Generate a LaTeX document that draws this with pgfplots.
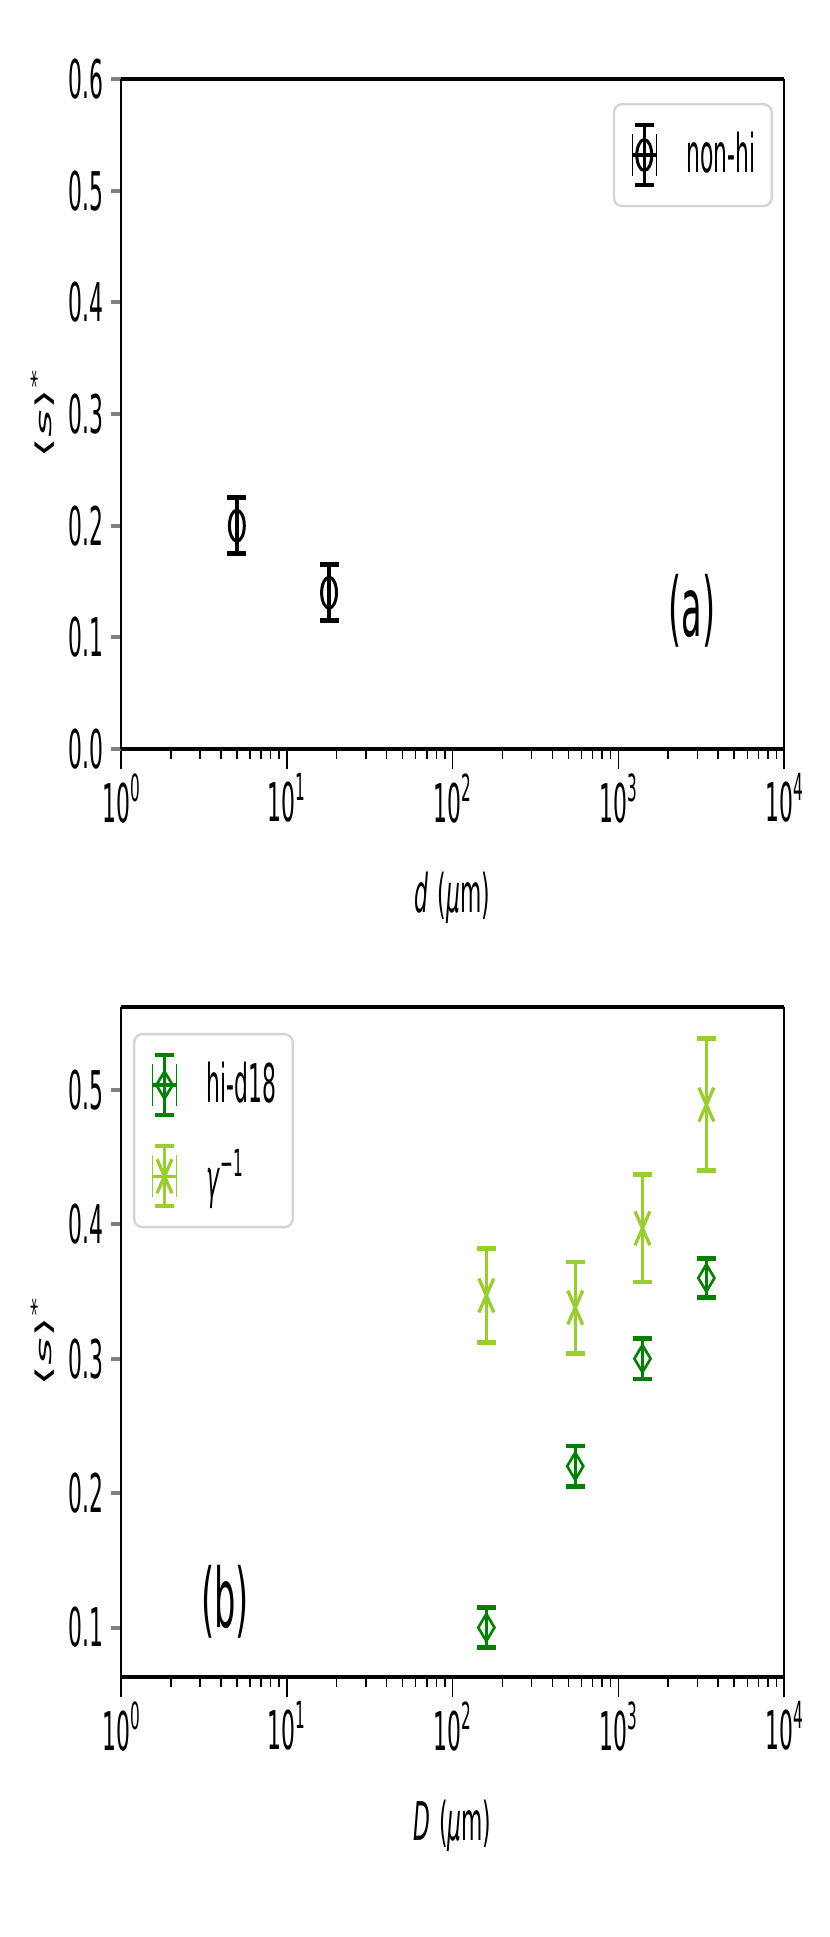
\documentclass[border=0pt]{standalone}
\usepackage{fontspec}
\setmainfont{DejaVu Sans}[FakeStretch=0.41]
\newfontfamily\ylabfont{DejaVu Sans}
\usepackage{graphicx}
\usepackage{pgfplots}
\pgfplotsset{compat=1.18}

\definecolor{mgreen}{HTML}{008000}
\definecolor{ygreen}{HTML}{9ACD32}
\definecolor{leggray}{HTML}{D4D4D4}

\newcommand\sups[1]{\raisebox{0.39em}{\fontsize{11.2}{11.2}\selectfont #1}}
\newcommand\fsz{\fontsize{16}{16}\selectfont}

% legend image: y error bar with caps, small x caps, then the marker
\newcommand\ebimg[2]{%
    \draw[#1, line width=0.45pt] (0.3cm-3.6pt,-6.3pt) -- (0.3cm-3.6pt,6.3pt)
                                 (0.3cm+3.6pt,-6.3pt) -- (0.3cm+3.6pt,6.3pt);
    \draw[#1, line width=1pt] (0.3cm-3.6pt,0pt) -- (0.3cm+3.6pt,0pt);
    \draw[#1, line width=1pt] (0.3cm,-9pt) -- (0.3cm,9pt);
    \draw[#1, line width=1.35pt] (0.3cm-2.85pt,-9pt) -- (0.3cm+2.85pt,-9pt)
                                 (0.3cm-2.85pt,9pt) -- (0.3cm+2.85pt,9pt);
    \draw[#1, #2] plot coordinates {(0.3cm,0cm)};}

\pgfplotsset{
  scale only axis, width=198.9pt, height=201pt,
  tick align=outside,
  major tick length=6pt, minor tick length=3pt,
  separate axis lines,
  x axis line style={line width=1.3pt},
  y axis line style={line width=0.45pt},
  tick label style={font=\fsz},
  label style={font=\fsz},
  every major y tick/.append style={draw=none},
}

\begin{document}
\begin{tikzpicture}

% (a)
\begin{axis}[
  at={(36.3pt,356.4pt)}, anchor=south west,
  xmode=log, xmin=1, xmax=10000,
  xtick={1,10,100,1000,10000},
  xticklabels={10\sups{0},10\sups{1},10\sups{2},10\sups{3},10\sups{4}},
  minor xtick={2,3,4,5,6,7,8,9,20,30,40,50,60,70,80,90,200,300,400,500,600,700,800,900,2000,3000,4000,5000,6000,7000,8000,9000},
  xtick pos=left, ytick pos=left,
  xtick style={line width=0.45pt, black},
  ytick style={line width=1.2pt},
  xticklabel style={inner sep=0pt, yshift=-1.2pt},
  yticklabel style={inner sep=0pt, xshift=0.9pt},
  ymin=0, ymax=0.6, ytick={0,0.1,0.2,0.3,0.4,0.5,0.6},
  minor ytick={0,0.1,0.2,0.3,0.4,0.5,0.6},
  yticklabels={0.0,0.1,0.2,0.3,0.4,0.5,0.6},
  xlabel={\textit{d}\,(\textit{μ}m)},
  ylabel={\ylabfont\scalebox{1}[0.41]{⟨\textit{s}⟩\sups{*}}},
  xlabel style={at={(axis description cs:0.5,0)}, anchor=north, yshift=-36.6pt, inner sep=0pt},
  ylabel style={at={(axis description cs:-0.1177,0.5)}, anchor=center, inner sep=0pt},
  legend style={draw=leggray, line width=0.7pt, rounded corners=2.5pt, fill=white,
    inner xsep=5pt, inner ysep=5.6pt, row sep=8pt,
    nodes={inner sep=0pt, anchor=west}, font=\fsz,
    at={(1,1)}, anchor=north east, xshift=-3.3pt, yshift=-7.2pt},
  legend style={/tikz/every odd column/.append style={column sep=8.5pt}},
]
\addplot[only marks, color=black, mark=o, mark size=4.65pt,
  mark options={xscale=0.48, fill=white, line width=0.9pt},
  legend image code/.code={\ebimg{black}{mark=o, mark size=4.65pt, mark options={xscale=0.48, fill=white, line width=0.9pt}}},
  error bars/.cd, y dir=both, y explicit,
  error bar style={line width=1pt},
  error mark options={rotate=90, mark size=2.85pt, line width=1.35pt}]
  coordinates {(5,0.200) +- (0,0.025) (18,0.140) +- (0,0.025)};
\addlegendentry{non-hi}
\node[font=\fontsize{24.6}{24.6}\selectfont] at (axis description cs:0.861,0.206) {(a)};
\end{axis}

% (b)
\begin{axis}[
  at={(36.3pt,78pt)}, anchor=south west,
  xmode=log, xmin=1, xmax=10000,
  xtick={1,10,100,1000,10000},
  xticklabels={10\sups{0},10\sups{1},10\sups{2},10\sups{3},10\sups{4}},
  minor xtick={2,3,4,5,6,7,8,9,20,30,40,50,60,70,80,90,200,300,400,500,600,700,800,900,2000,3000,4000,5000,6000,7000,8000,9000},
  xtick pos=left, ytick pos=left,
  xtick style={line width=0.45pt, black},
  ytick style={line width=1.2pt},
  xticklabel style={inner sep=0pt, yshift=-1.2pt},
  yticklabel style={inner sep=0pt, xshift=0.9pt},
  ymin=0.0632, ymax=0.5616, ytick={0.1,0.2,0.3,0.4,0.5},
  minor ytick={0.1,0.2,0.3,0.4,0.5},
  yticklabels={0.1,0.2,0.3,0.4,0.5},
  xlabel={\textit{D}\,(\textit{μ}m)},
  ylabel={\ylabfont\scalebox{1}[0.41]{⟨\textit{s}⟩\sups{*}}},
  xlabel style={at={(axis description cs:0.5,0)}, anchor=north, yshift=-36.6pt, inner sep=0pt},
  ylabel style={at={(axis description cs:-0.1177,0.5)}, anchor=center, inner sep=0pt},
  legend style={draw=leggray, line width=0.7pt, rounded corners=2.5pt, fill=white,
    inner xsep=5pt, inner ysep=5.6pt, row sep=8pt,
    nodes={inner sep=0pt, anchor=west}, font=\fsz,
    at={(0,1)}, anchor=north west, xshift=3.6pt, yshift=-7.8pt},
  legend style={/tikz/every odd column/.append style={column sep=8.5pt}},
]
\addplot[only marks, color=mgreen, mark=diamond, mark size=4.05pt,
  mark options={xscale=0.8, fill=white, line width=0.8pt},
  legend image code/.code={\ebimg{mgreen}{mark=diamond, mark size=4.05pt, mark options={xscale=0.8, fill=white, line width=0.8pt}}},
  error bars/.cd, y dir=both, y explicit,
  error bar style={line width=1pt},
  error mark options={rotate=90, mark size=2.85pt, line width=1.35pt}]
  coordinates {(160,0.100) +- (0,0.015) (550,0.220) +- (0,0.015)
               (1400,0.300) +- (0,0.015) (3400,0.360) +- (0,0.0145)};
\addlegendentry{hi-d18}
\addplot[only marks, color=ygreen, mark=x, mark size=7.2pt,
  mark options={xscale=0.44, line width=1pt},
  legend image code/.code={\ebimg{ygreen}{mark=x, mark size=7.2pt, mark options={xscale=0.44, line width=1pt}}},
  error bars/.cd, y dir=both, y explicit,
  error bar style={line width=1pt},
  error mark options={rotate=90, mark size=2.85pt, line width=1.35pt}]
  coordinates {(160,0.347) +- (0,0.035) (550,0.338) +- (0,0.034)
               (1400,0.397) +- (0,0.040) (3400,0.489) +- (0,0.049)};
\addlegendentry{\textit{γ}\sups{−1}}
\node[font=\fontsize{24.6}{24.6}\selectfont] at (axis description cs:0.157,0.113) {(b)};
\end{axis}

\pgfresetboundingbox
\useasboundingbox (0,0) rectangle (249pt,581.1pt);
\end{tikzpicture}
\end{document}
